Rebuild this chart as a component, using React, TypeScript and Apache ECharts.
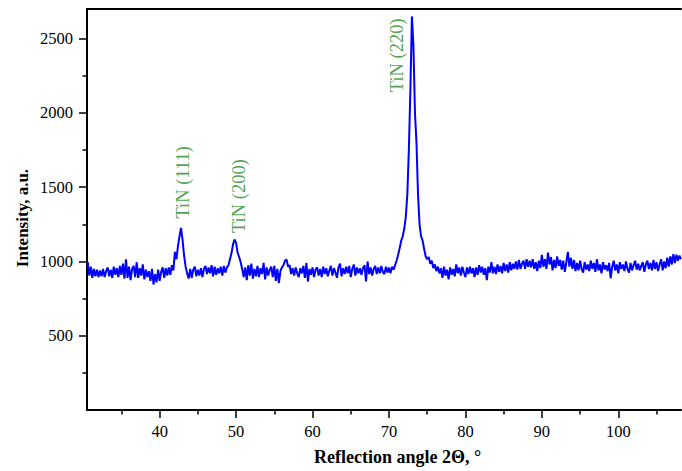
import React, { useEffect, useRef } from "react";
import * as echarts from "echarts";

// Reflection angle of the first point and the sampling step (degrees 2Θ)
const xStart = 30.6;
const xStep = 0.2;

const intensity = [
  995, 905, 965, 890, 950, 900, 945, 895, 940, 900,
  950, 895, 935, 960, 900, 945, 890, 965, 910, 955,
  895, 970, 910, 985, 885, 1015, 890, 965, 875, 950,
  970, 895, 995, 890, 955, 905, 980, 880, 945, 895,
  935, 870, 950, 845, 915, 860, 945, 870, 930, 960,
  890, 955, 905, 960, 910, 975, 940, 1065, 1015, 1105,
  1170, 1226, 1145, 1040, 965, 920, 885, 950, 890, 945,
  965, 900, 945, 905, 955, 895, 950, 970, 915, 960,
  920, 975, 900, 965, 910, 955, 920, 965, 905, 970,
  925, 960, 975, 1015, 1055, 1115, 1148, 1125, 1060, 1030,
  995, 950, 895, 960, 875, 975, 905, 985, 885, 950,
  900, 970, 895, 955, 915, 990, 880, 960, 905, 945,
  965, 895, 970, 870, 950, 855, 935, 960, 975, 1005,
  1014, 965, 975, 915, 955, 905, 960, 920, 895, 955,
  920, 970, 890, 990, 865, 950, 910, 960, 895, 945,
  960, 905, 950, 895, 965, 915, 955, 900, 940, 970,
  905, 955, 925, 890, 960, 985, 900, 955, 915, 965,
  920, 970, 895, 950, 980, 905, 960, 920, 955, 910,
  955, 975, 865, 1000, 915, 960, 905, 950, 970, 915,
  960, 920, 970, 930, 915, 965, 925, 960, 920, 965,
  945, 975, 1005, 1045, 1090, 1140, 1170, 1220, 1300, 1450,
  1750, 2150, 2650, 2450, 2000, 1800, 1450, 1250, 1170, 1140,
  1085, 1035, 1015, 1030, 985, 1005, 955, 980, 935, 965,
  920, 955, 890, 965, 905, 945, 880, 960, 910, 950,
  900, 980, 920, 960, 905, 965, 925, 895, 960, 915,
  965, 920, 955, 895, 960, 910, 975, 925, 965, 910,
  955, 875, 965, 925, 995, 920, 965, 915, 980, 930,
  970, 920, 990, 935, 980, 925, 995, 940, 985, 950,
  1000, 945, 1010, 950, 985, 1005, 950, 1015, 965, 1005,
  960, 1015, 950, 995, 935, 1005, 955, 1045, 965, 1015,
  950, 1059, 980, 1030, 940, 1010, 955, 1035, 970, 1010,
  945, 1005, 930, 995, 1064, 965, 1025, 950, 1010, 935,
  990, 940, 1005, 950, 925, 995, 945, 980, 935, 1005,
  950, 990, 930, 1015, 940, 980, 920, 995, 945, 975,
  935, 990, 887, 965, 1005, 940, 980, 920, 995, 950,
  980, 935, 1000, 950, 925, 990, 940, 975, 1005, 945,
  985, 940, 970, 995, 930, 980, 1005, 950, 990, 940,
  1010, 950, 995, 935, 980, 1015, 940, 1000, 955, 1025,
  965, 1035, 980, 1050, 990, 1045, 1005, 1040, 1015,
];

const xMin = 30.5;
const xMax = 108.2;
const yMin = 0;
const yMax = 2700;
const xMajorTicks = [40, 50, 60, 70, 80, 90, 100];
const xMinorTicks = [35, 45, 55, 65, 75, 85, 95, 105];
const yMajorTicks = [500, 1000, 1500, 2000, 2500];
const yMinorTicks = [250, 750, 1250, 1750, 2250];

const peakLabels = ["TiN (111)", "TiN (200)", "TiN (220)"];
const peakLabelX = [43.1, 50.35, 71.07];
const peakLabelY = [1533, 1440, 2388];

const xTitle = "Reflection angle 2Θ, °";
const yTitle = "Intensity, a.u.";

const FONT = "'Liberation Serif', 'Times New Roman', serif";

export default function App() {
  const ref = useRef<HTMLDivElement>(null);

  useEffect(() => {
    if (!ref.current) return;
    const chart = echarts.init(ref.current, undefined, { renderer: "svg" });

    const lineData = intensity.map((v, i) => [
      +(xStart + i * xStep).toFixed(2),
      v,
    ]);
    const labelData = peakLabels.map((t, i) => [peakLabelX[i], peakLabelY[i], t]);

    const axisLine = { show: true, lineStyle: { color: "#000", width: 2 } };
    const tickStyle = { color: "#000", width: 1.5 };
    const plain = (v: number) => String(v);

    chart.setOption({
      animation: false,
      backgroundColor: "#fff",
      grid: { left: 87, right: 1, top: 9, bottom: 61, containLabel: false },
      xAxis: [
        {
          type: "value",
          min: xMin,
          max: xMax,
          position: "bottom",
          axisLine,
          axisTick: {
            show: true,
            inside: false,
            length: 8,
            customValues: xMajorTicks,
            lineStyle: tickStyle,
          },
          axisLabel: {
            show: true,
            customValues: xMajorTicks,
            formatter: plain,
            margin: 13,
            color: "#000",
            fontFamily: FONT,
            fontSize: 16.5,
          },
          splitLine: { show: false },
        },
        {
          type: "value",
          min: xMin,
          max: xMax,
          position: "bottom",
          axisLine: { show: false },
          axisTick: {
            show: true,
            inside: false,
            length: 4.5,
            customValues: xMinorTicks,
            lineStyle: tickStyle,
          },
          axisLabel: { show: false },
          splitLine: { show: false },
        },
        {
          type: "value",
          min: xMin,
          max: xMax,
          position: "top",
          axisLine,
          axisTick: { show: false },
          axisLabel: { show: false },
          splitLine: { show: false },
        },
      ],
      yAxis: [
        {
          type: "value",
          min: yMin,
          max: yMax,
          position: "left",
          axisLine,
          axisTick: {
            show: true,
            inside: false,
            length: 8,
            customValues: yMajorTicks,
            lineStyle: tickStyle,
          },
          axisLabel: {
            show: true,
            customValues: yMajorTicks,
            formatter: plain,
            margin: 14,
            color: "#000",
            fontFamily: FONT,
            fontSize: 16.5,
          },
          splitLine: { show: false },
        },
        {
          type: "value",
          min: yMin,
          max: yMax,
          position: "left",
          axisLine: { show: false },
          axisTick: {
            show: true,
            inside: false,
            length: 4.5,
            customValues: yMinorTicks,
            lineStyle: tickStyle,
          },
          axisLabel: { show: false },
          splitLine: { show: false },
        },
      ],
      series: [
        {
          type: "line",
          xAxisIndex: 0,
          yAxisIndex: 0,
          data: lineData,
          showSymbol: false,
          symbol: "none",
          lineStyle: { color: "#0000ff", width: 2 },
          z: 2,
        },
        {
          type: "scatter",
          xAxisIndex: 0,
          yAxisIndex: 0,
          data: labelData,
          symbolSize: 0.1,
          itemStyle: { color: "rgba(0,0,0,0)" },
          silent: true,
          label: {
            show: true,
            position: "inside",
            rotate: 90,
            align: "center",
            verticalAlign: "middle",
            color: "#1f8a1f",
            fontFamily: FONT,
            fontSize: 18.5,
            formatter: (p: any) => p.data[2],
          },
          z: 3,
        },
      ],
      graphic: [
        {
          type: "text",
          x: 397.5,
          y: 457.3,
          style: {
            text: xTitle,
            align: "center",
            verticalAlign: "middle",
            fontFamily: FONT,
            fontWeight: "bold",
            fontSize: 18,
            fill: "#000",
          },
        },
        {
          type: "text",
          x: 22.5,
          y: 218,
          rotation: Math.PI / 2,
          style: {
            text: yTitle,
            align: "center",
            verticalAlign: "middle",
            fontFamily: FONT,
            fontWeight: "bold",
            fontSize: 17,
            fill: "#000",
          },
        },
      ],
    });

    return () => chart.dispose();
  }, []);

  return (
    <div
      ref={ref}
      style={{ position: "fixed", left: 0, top: 0, width: 682, height: 471 }}
    />
  );
}
